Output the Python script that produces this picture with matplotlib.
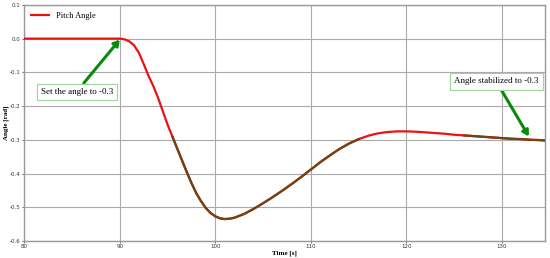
import matplotlib
matplotlib.use("Agg")
import matplotlib.pyplot as plt
import numpy as np

time_s = [80, 85, 90, 90.5, 91, 91.5, 92, 92.5, 93, 93.5, 94, 94.5, 95, 95.5, 96, 96.5, 97, 97.5, 98,
          98.5, 99, 99.5, 100, 100.5, 101, 101.5, 102, 103, 104, 105, 106, 107, 108, 109, 110, 111,
          112, 113, 114, 115, 116, 117, 118, 119, 120, 121, 122, 123, 124, 125, 126, 127, 128, 129,
          130, 131, 132, 133, 134, 134.5]
angle_rad = [0.0, 0.0, 0.0, -0.002, -0.008, -0.02, -0.042, -0.075, -0.11, -0.14, -0.175, -0.215, -0.255,
             -0.29, -0.325, -0.36, -0.395, -0.428, -0.458, -0.482, -0.502, -0.517, -0.527, -0.533, -0.535,
             -0.534, -0.531, -0.52, -0.505, -0.488, -0.47, -0.451, -0.431, -0.41, -0.388, -0.366,
             -0.346, -0.327, -0.311, -0.298, -0.288, -0.281, -0.277, -0.275, -0.275, -0.276, -0.278,
             -0.28, -0.282, -0.285, -0.287, -0.289, -0.291, -0.293, -0.295, -0.297, -0.298, -0.3, -0.301, -0.302]

overlay_ranges = [(95.5, 115.5), (126, 134.5)]

x_ticks = [80, 90, 100, 110, 120, 130]
y_ticks = [-0.6, -0.5, -0.4, -0.3, -0.2, -0.1, 0.0, 0.1]

serif = ["Liberation Serif", "DejaVu Serif"]

fig = plt.figure(figsize=(5.5, 2.58), dpi=100)
ax = fig.add_axes([0.044, 0.066, 0.947, 0.915])

t = np.array(time_s)
a = np.array(angle_rad)
ax.plot(t, a, color="#ee1111", lw=1.6, label="Pitch Angle", zorder=3)
for lo, hi in overlay_ranges:
    m = (t >= lo) & (t <= hi)
    ax.plot(t[m], a[m], color="#6b4513", lw=1.6, zorder=4)

ax.set_xlim(80, 134.5)
ax.set_ylim(-0.6, 0.1)
ax.set_xticks(x_ticks)
ax.set_yticks(y_ticks)
ax.set_yticklabels([f"{v:.1f}" for v in y_ticks])
ax.tick_params(labelsize=4, length=1.5, width=0.5, colors="#333333", pad=1)
ax.grid(True, color="#aaaaaa", lw=0.8)
for s in ax.spines.values():
    s.set_color("#999999")
    s.set_linewidth(1.0)

ax.set_xlabel("Time [s]", fontsize=5, fontweight="bold", family=serif, labelpad=0.5)
ax.set_ylabel("Angle [rad]", fontsize=5, fontweight="bold", family=serif, labelpad=0.5)

leg = ax.legend(loc="upper left", prop={"family": serif, "size": 6}, frameon=True,
                fancybox=False, edgecolor="white", borderaxespad=0.4, handlelength=2.2)

box = dict(boxstyle="square,pad=0.45", fc="white", ec="#9fd49f", lw=0.8)
ax.annotate("Set the angle to -0.3", xy=(90.0, -0.003), xytext=(85.5, -0.157),
            fontsize=6.5, family=serif, ha="center", va="center", bbox=box,
            arrowprops=dict(arrowstyle="-|>,head_width=0.3,head_length=0.5", color="#0a8a0a", lw=2.2,
                            shrinkA=0, shrinkB=0), zorder=5)
ax.annotate("Angle stabilized to -0.3", xy=(132.8, -0.29), xytext=(129.4, -0.127),
            fontsize=6.5, family=serif, ha="center", va="center", bbox=box,
            arrowprops=dict(arrowstyle="-|>,head_width=0.3,head_length=0.5", color="#0a8a0a", lw=2.2,
                            shrinkA=0, shrinkB=0), zorder=5)

fig.savefig("out.png", dpi=100)
